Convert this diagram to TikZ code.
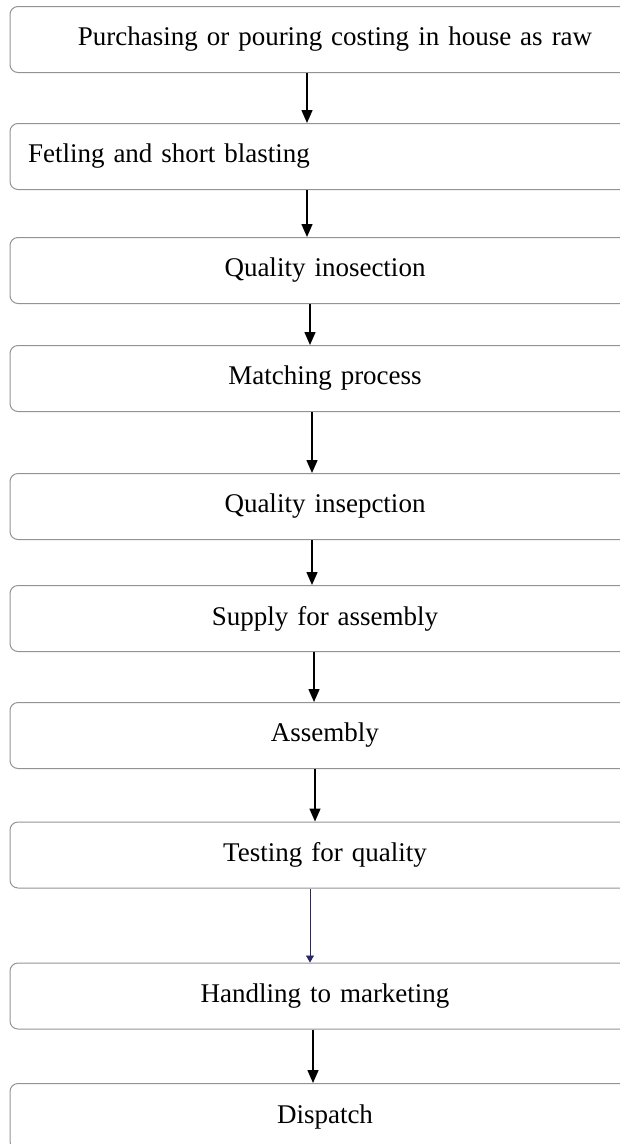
\documentclass[tikz,border=0pt]{standalone}
\usepackage{fontspec}
\setmainfont{Liberation Serif}
\usetikzlibrary{arrows.meta}

\definecolor{inkblue}{RGB}{40,40,100}

\tikzset{
  stage/.style={draw=gray!85, line width=1pt, rounded corners=8pt,
    minimum height=66pt, text width=594pt, inner xsep=18pt, align=center,
    font=\fontsize{27}{32}\selectfont},
  flow/.style={line width=1.5pt, -{Triangle[length=13pt,width=11pt]}},
  thinflow/.style={line width=0.7pt, draw=inkblue, -{Triangle[length=7pt,width=8pt]}}
}

\begin{document}
\begin{tikzpicture}[x=1pt, y=-1pt]
        \useasboundingbox (0,0) rectangle (620,1144);
        \node[stage] (raw) at (325,39.5) {\hspace*{20pt}Purchasing or pouring costing in house as raw};
        \node[stage, align=left] (fetl) at (325,156.5) {Fetling and short blasting};
        \node[stage] (qi1) at (325,270.5) {Quality inosection};
        \node[stage] (mach) at (325,378.5) {Matching process};
        \node[stage] (qi2) at (325,506.5) {Quality insepction};
        \node[stage] (supp) at (325,618.5) {Supply for assembly};
        \node[stage] (asm) at (325,735.5) {Assembly};
        \node[stage] (test) at (325,855) {Testing for quality};
        \node[stage] (hand) at (325,996) {Handling to marketing};
        \node[stage] (disp) at (325,1116.5) {Dispatch};
        % arrows, slightly left of centre as in the scan
        \draw[flow] ([xshift=-18pt]raw.south) -- ([xshift=-18pt]fetl.north);
        \draw[flow] ([xshift=-18pt]fetl.south) -- ([xshift=-18pt]qi1.north);
        \draw[flow] ([xshift=-15pt]qi1.south) -- ([xshift=-15pt]mach.north);
        \draw[flow] ([xshift=-13pt]mach.south) -- ([xshift=-13pt]qi2.north);
        \draw[flow] ([xshift=-13pt]qi2.south) -- ([xshift=-13pt]supp.north);
        \draw[flow] ([xshift=-11pt]supp.south) -- ([xshift=-11pt]asm.north);
        \draw[flow] ([xshift=-10pt]asm.south) -- ([xshift=-10pt]test.north);
        \draw[thinflow] ([xshift=-15pt]test.south) -- ([xshift=-15pt]hand.north);
        \draw[flow] ([xshift=-12pt]hand.south) -- ([xshift=-12pt]disp.north);
      \end{tikzpicture}
\end{document}
